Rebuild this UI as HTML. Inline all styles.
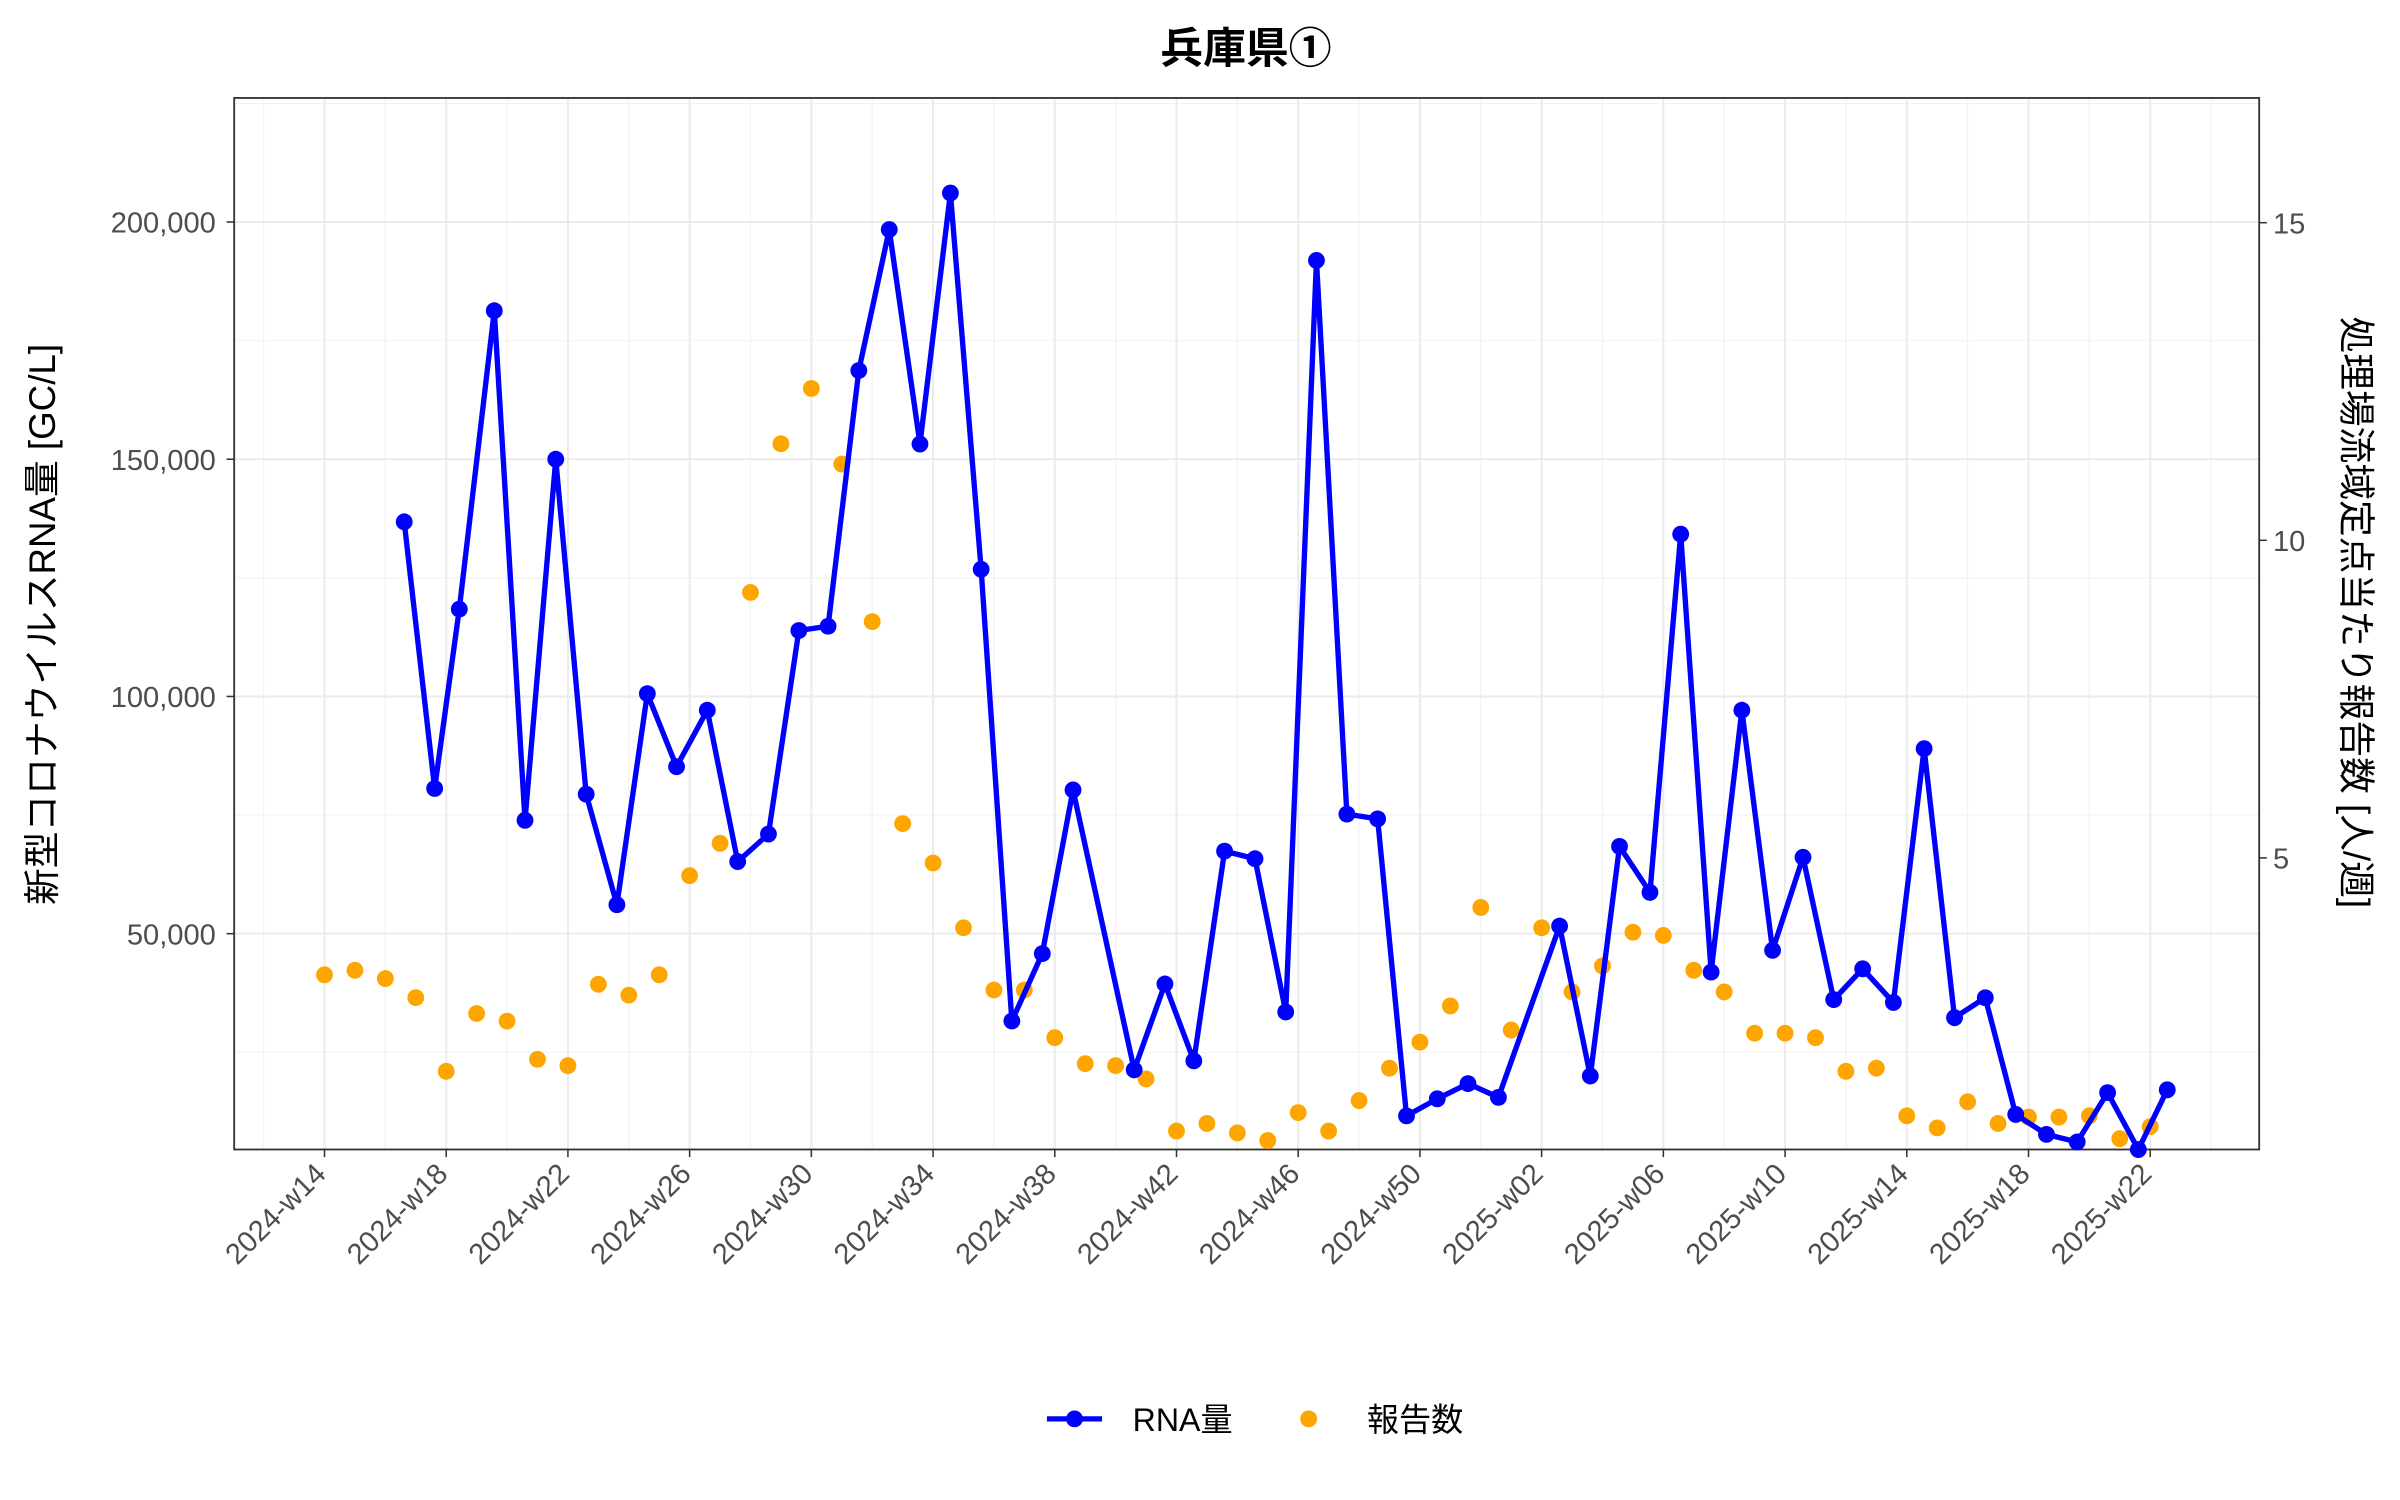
<!DOCTYPE html>
<html><head><meta charset="utf-8"><style>
html,body{margin:0;padding:0;background:#fff;}
svg{display:block;font-family:"Liberation Sans","Noto Sans CJK JP",sans-serif;}
</style></head><body>
<svg id="chart" width="2400" height="1500" viewBox="0 0 1568 980" xmlns="http://www.w3.org/2000/svg">
<rect x="0" y="0" width="1568" height="980" fill="#fff"/>
<text x="814" y="41" text-anchor="middle" font-size="28" font-weight="bold" fill="#000">兵庫県①</text>
<g id="grid"></g>
<g id="axes"></g>
<g id="series"></g>
<text transform="translate(36,408) rotate(-90)" text-anchor="middle" font-size="24" fill="#000">新型コロナウイルスRNA量 [GC/L]</text>
<text transform="translate(1531,400) rotate(90)" text-anchor="middle" font-size="24" fill="#000">処理場流域定点当たり報告数 [人/週]</text>
<g>
<line x1="684" y1="927" x2="720" y2="927" stroke="#0000FF" stroke-width="3.5"/>
<circle cx="702" cy="927" r="5.5" fill="#0000FF"/>
<text x="740" y="935" font-size="21" fill="#000">RNA量</text>
<circle cx="855" cy="927" r="5.5" fill="#FFA500"/>
<text x="893" y="935" font-size="21" fill="#000">報告数</text>
</g>
</svg>
<script>
const tickLabels = ["2024-w14","2024-w18","2024-w22","2024-w26","2024-w30","2024-w34","2024-w38","2024-w42","2024-w46","2024-w50","2025-w02","2025-w06","2025-w10","2025-w14","2025-w18","2025-w22"];
const leftTicks = [50000,100000,150000,200000];
const rightTicks = [5,10,15];
const reportWeeks = [0,1,2,3,4,5,6,7,8,9,10,11,12,13,14,15,16,17,18,19,20,21,22,23,24,25,26,27,28,29,30,31,32,33,34,35,36,37,38,39,40,41,42,43,44,45,46,47,48,49,50,51,52,53,54,55,56,57,58,59,60];
const reportValues = [3.16,3.23,3.1,2.8,1.64,2.55,2.43,1.83,1.73,3.01,2.84,3.16,4.72,5.23,9.18,11.52,12.39,11.2,8.72,5.54,4.92,3.9,2.92,2.92,2.17,1.76,1.73,1.52,0.7,0.82,0.67,0.55,0.99,0.7,1.18,1.69,2.1,2.67,4.22,2.29,3.9,2.89,3.3,3.83,3.78,3.23,2.89,2.24,2.24,2.17,1.64,1.69,0.94,0.75,1.16,0.82,0.92,0.92,0.94,0.58,0.77];
const rnaWeeks = [2.62,3.62,4.43,5.58,6.59,7.6,8.6,9.61,10.61,11.57,12.58,13.58,14.59,15.59,16.55,17.56,18.56,19.57,20.57,21.58,22.59,23.59,24.6,26.61,27.62,28.57,29.58,30.58,31.59,32.6,33.6,34.61,35.56,36.57,37.58,38.58,40.59,41.6,42.56,43.56,44.57,45.57,46.58,47.59,48.59,49.6,50.55,51.56,52.57,53.57,54.58,55.58,56.59,57.6,58.6,59.61,60.56];
const rnaValues = [136800,80600,118400,181300,73900,150000,79400,56100,100600,85200,97100,65200,71000,113900,114800,168700,198400,153200,206100,126800,31600,45800,80300,21300,39400,23200,67400,65800,33500,191900,75200,74200,11600,15200,18400,15500,51600,20000,68400,58700,134200,41900,97100,46500,66100,36100,42600,35500,89000,32300,36500,11900,7700,6100,16500,4500,17100];

const NS="http://www.w3.org/2000/svg";
const L=153,R=1476,T=64,B=751;
const xS=w=>212+w*19.88;
const yL=v=>765-v/322.6;
const yR=v=>768-v*41.5;
function mk(tag,attrs,parent){const e=document.createElementNS(NS,tag);for(const k in attrs)e.setAttribute(k,attrs[k]);parent.appendChild(e);return e;}
const grid=document.getElementById('grid'),axes=document.getElementById('axes'),series=document.getElementById('series');
mk('rect',{x:L,y:T,width:R-L,height:B-T,fill:'#fff'},grid);
for(let v=25000;v<=225000;v+=50000){const y=yL(v);if(y>T&&y<B){const g=mk('line',{x1:L,x2:R,y1:y,y2:y,stroke:'#F2F2F2','stroke-width':0.7},grid);

}}
for(let i=0;i<tickLabels.length+1;i++){[-2,2].forEach(o=>{const x=xS(i*4+o);if(x>L&&x<R){const g=mk('line',{x1:x,x2:x,y1:T,y2:B,stroke:'#F2F2F2','stroke-width':0.7},grid);

}});}
leftTicks.forEach(v=>{const y=yL(v);const g=mk('line',{x1:L,x2:R,y1:y,y2:y,stroke:'#EBEBEB','stroke-width':1.3},grid);


const t=mk('line',{x1:L-5,x2:L,y1:y,y2:y,stroke:'#333','stroke-width':1},axes);


const lb=mk('text',{x:L-12,y:y+7,'text-anchor':'end','font-size':19,fill:'#4D4D4D'},axes);lb.textContent=v.toLocaleString('en-US');

});
tickLabels.forEach((s,i)=>{const x=xS(i*4);const g=mk('line',{x1:x,x2:x,y1:T,y2:B,stroke:'#EBEBEB','stroke-width':1.3},grid);


const t=mk('line',{x1:x,x2:x,y1:B,y2:B+5,stroke:'#333','stroke-width':1},axes);


const lb=mk('text',{transform:`translate(${x+2},${B+17}) rotate(-45)`,'text-anchor':'end','font-size':19,fill:'#4D4D4D'},axes);lb.textContent=s;

});
rightTicks.forEach(v=>{const y=yR(v);const t=mk('line',{x1:R,x2:R+5,y1:y,y2:y,stroke:'#333','stroke-width':1},axes);


const lb=mk('text',{x:R+9,y:y+7,'font-size':19,fill:'#4D4D4D'},axes);lb.textContent=v;

});
const frame=mk('rect',{x:L,y:T,width:R-L,height:B-T,fill:'none',stroke:'#333','stroke-width':1.2},axes);


reportWeeks.forEach((w,i)=>{const c=mk('circle',{cx:xS(w),cy:yR(reportValues[i]),r:5.5,fill:'#FFA500'},series);

});
const pts=rnaWeeks.map((w,i)=>xS(w)+','+yL(rnaValues[i])).join(' ');
const pl=mk('polyline',{points:pts,fill:'none',stroke:'#0000FF','stroke-width':3.5,'stroke-linejoin':'round'},series);


rnaWeeks.forEach((w,i)=>{const c=mk('circle',{cx:xS(w),cy:yL(rnaValues[i]),r:5.5,fill:'#0000FF'},series);

});
</script>
</body></html>
